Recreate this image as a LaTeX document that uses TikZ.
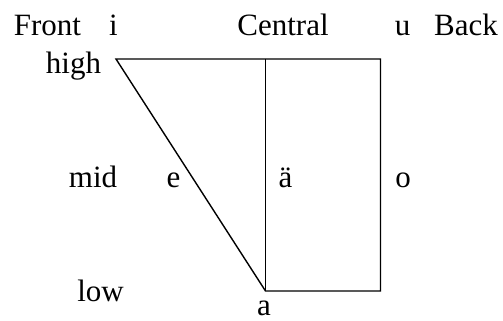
\documentclass[tikz,border=0pt]{standalone}
\usepackage{fontspec}
\setmainfont{Liberation Serif}
\begin{document}
\begin{tikzpicture}[x=1pt,y=-1pt,font=\fontsize{31}{37}\selectfont,
    lbl/.style={anchor=base,inner sep=0pt},
    chart/.style={line width=1.4pt,line join=miter}]
        \useasboundingbox (0,0) rectangle (503,321);
        % corners of the vowel chart
        \coordinate (hf) at (116,59);
        \coordinate (hc) at (265.5,59);
        \coordinate (hb) at (380.5,59);
        \coordinate (lc) at (265.5,291);
        \coordinate (lb) at (380.5,291);
        \draw[chart] (hf) -- (hb) -- (lb) -- (lc) -- cycle;
        \draw[chart] (hc) -- (lc);
        % column heads
        \node[lbl] (front) at (47.5,36) {Front};
        \node[lbl] (i) at (113.5,36) {i};
        \node[lbl] (central) at (283,36) {Central};
        \node[lbl] (u) at (402.5,36) {u};
        \node[lbl] (back) at (466,36) {Back};
        % row heads and vowels
        \node[lbl] (high) at (73.5,74) {high};
        \node[lbl] (mid) at (93,187) {mid};
        \node[lbl] (e) at (173.5,187) {e};
        \node[lbl] (auml) at (285.5,187) {ä};
        \node[lbl] (o) at (403,187) {o};
        \node[lbl] (low) at (100.5,301) {low};
        \node[lbl] (a) at (264,315) {a};
      \end{tikzpicture}
\end{document}
